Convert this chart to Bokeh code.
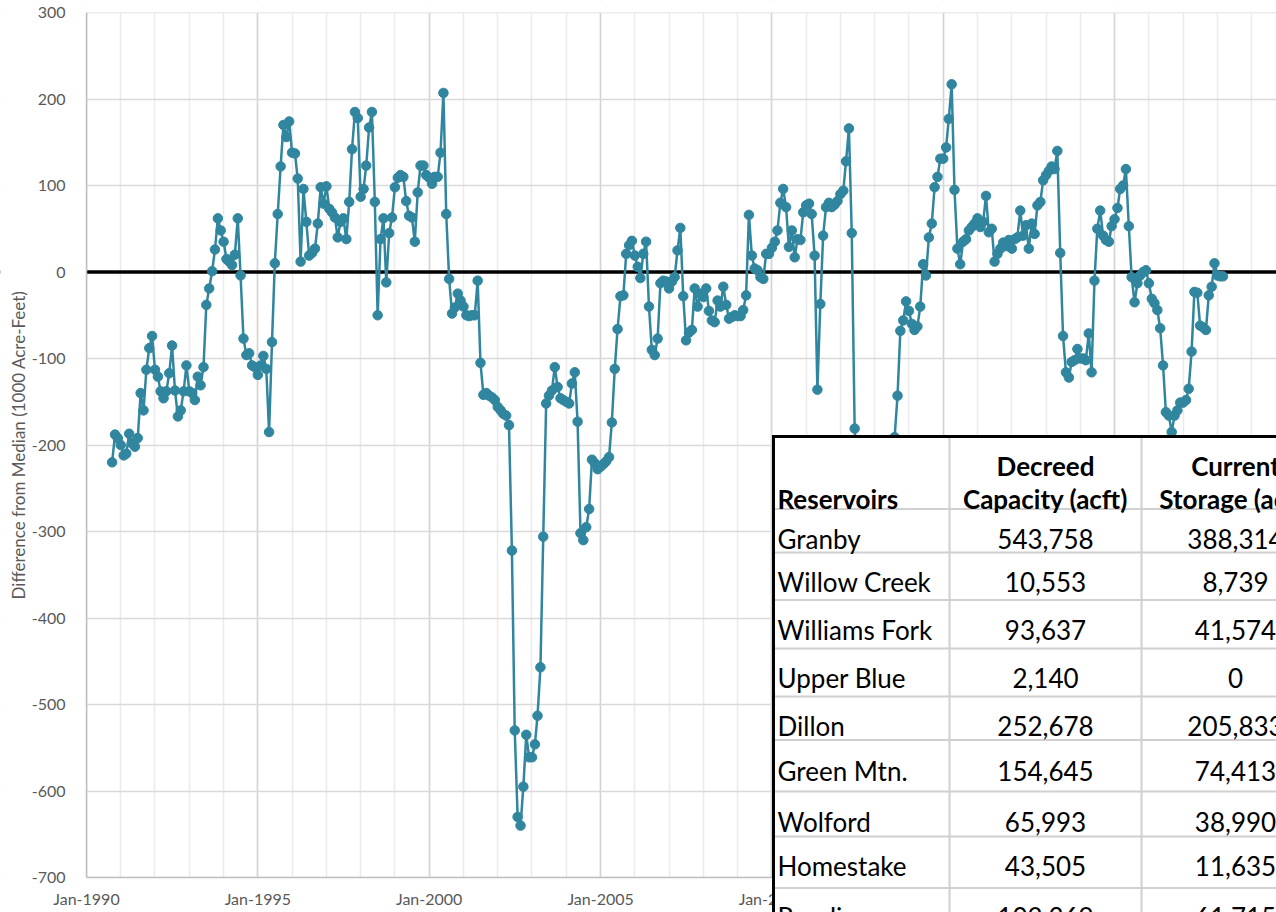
import datetime as dt
import pandas as pd
from bokeh.plotting import figure
from bokeh.models import (ColumnDataSource, Range1d, FixedTicker, DatetimeTickFormatter,
                          Span, BoxAnnotation, Label)
from bokeh.embed import file_html
from bokeh.resources import INLINE

# ---------------- data: monthly difference from median (1000 acre-feet) ----------------
START = "1990-10-01"
v1990 = [-220, -188, -192]
v1991 = [-200, -212, -210, -187, -198, -202, -192, -140, -160, -113, -88, -74]
v1992 = [-113, -121, -138, -146, -138, -117, -85, -137, -167, -160, -138, -108]
v1993 = [-138, -140, -148, -121, -131, -110, -38, -19, 1, 26, 62, 48]
v1994 = [35, 15, 12, 8, 20, 62, -4, -77, -96, -94, -108, -110]
v1995 = [-119, -108, -97, -112, -185, -81, 10, 67, 122, 170, 156, 174]
v1996 = [138, 137, 108, 12, 96, 58, 19, 22, 27, 56, 98, 79]
v1997 = [99, 73, 69, 63, 40, 58, 62, 38, 81, 142, 185, 178]
v1998 = [87, 96, 123, 167, 185, 81, -50, 38, 62, -12, 45, 63]
v1999 = [98, 109, 112, 110, 82, 65, 63, 35, 92, 123, 123, 112]
v2000 = [109, 102, 110, 110, 138, 207, 67, -8, -48, -41, -25, -33]
v2001 = [-40, -50, -51, -50, -50, -10, -105, -142, -140, -143, -145, -148]
v2002 = [-156, -160, -164, -166, -177, -322, -530, -630, -640, -595, -535, -561]
v2003 = [-561, -546, -513, -457, -306, -152, -143, -137, -110, -133, -146, -148]
v2004 = [-150, -152, -129, -116, -173, -302, -310, -295, -274, -217, -221, -228]
v2005 = [-225, -222, -219, -214, -174, -112, -66, -28, -27, 21, 31, 36]
v2006 = [19, 6, -7, 21, 35, -40, -90, -96, -77, -13, -10, -11]
v2007 = [-19, -11, -6, 25, 51, -28, -79, -70, -67, -19, -40, -25]
v2008 = [-29, -19, -45, -56, -58, -33, -40, -17, -38, -54, -52, -50]
v2009 = [-51, -51, -44, -27, 66, 19, 4, 2, -6, -8, 21, 21]
v2010 = [28, 35, 48, 80, 96, 75, 29, 48, 17, 38, 37, 69]
v2011 = [77, 79, 67, 19, -136, -37, 42, 75, 80, 75, 78, 82]
v2012 = [90, 94, 128, 166, 45, -181, -235, -270, -295, -315, -330, -345]
v2013 = [-350, -355, -345, -330, -300, -260, -230, -191, -143, -68, -56, -34]
v2014 = [-45, -60, -67, -63, -40, 9, -4, 40, 56, 98, 110, 131]
v2015 = [131, 144, 177, 217, 95, 27, 9, 35, 38, 48, 52, 56]
v2016 = [62, 52, 58, 88, 46, 50, 12, 21, 27, 34, 30, 37]
v2017 = [27, 38, 40, 71, 42, 54, 27, 56, 44, 77, 81, 106]
v2018 = [112, 117, 122, 119, 140, 22, -74, -116, -122, -104, -102, -89]
v2019 = [-100, -100, -102, -71, -116, -10, 50, 71, 42, 37, 35, 53]
v2020 = [61, 74, 96, 100, 119, 53, -6, -35, -13, -4, 0, 2]
v2021 = [-13, -31, -36, -44, -65, -108, -162, -166, -185, -166, -160, -151]
v2022 = [-151, -148, -135, -92, -23, -24, -62, -64, -67, -27, -17, 10]
v2023 = [-4, -5, -5]

x_major_years = [1990, 1995, 2000, 2005, 2010, 2015, 2020]
x_minor_years = list(range(1990, 2025))
y_ticks = [-700, -600, -500, -400, -300, -200, -100, 0, 100, 200, 300]
y_title = "Difference from Median (1000 Acre-Feet)"

# table
tbl_headers = ["Reservoirs", "Decreed", "Capacity (acft)", "Current", "Storage (acft)"]
reservoirs = ["Granby", "Willow Creek", "Williams Fork", "Upper Blue", "Dillon",
              "Green Mtn.", "Wolford", "Homestake", "Ruedi"]
decreed = [543758, 10553, 93637, 2140, 252678, 154645, 65993, 43505, 102369]
current = [388314, 8739, 41574, 0, 205833, 74413, 38990, 11635, 61715]

values = (v1990 + v1991 + v1992 + v1993 + v1994 + v1995 + v1996 + v1997 + v1998 + v1999 +
          v2000 + v2001 + v2002 + v2003 + v2004 + v2005 + v2006 + v2007 + v2008 + v2009 +
          v2010 + v2011 + v2012 + v2013 + v2014 + v2015 + v2016 + v2017 + v2018 + v2019 +
          v2020 + v2021 + v2022 + v2023)
dates = pd.date_range(START, periods=len(values), freq="MS")
src = ColumnDataSource(dict(date=dates, val=values))


def ms(y, m=1, d=1):
    return (dt.datetime(y, m, d) - dt.datetime(1970, 1, 1)).total_seconds() * 1000.0


# ---------------- layout (canvas pixels) ----------------
# The frame fills the whole canvas; both axes are pinned with fixed_location so that
# the table overlay can also cover the tick-label strip, as in the original.
W, H = 1276, 912
AX_PX, TOP_PY, AX_PY = 86, 12, 877       # y-axis column, 300 row, -700 row
Y_TOP, Y_AXIS = 300, -700
PX_PER_UNIT = (AX_PY - TOP_PY) / (Y_TOP - Y_AXIS)
PX_PER_YEAR = 34.27
YEAR_MS = 365.25 * 86400000.0
X0 = ms(1990)


def X(px):
    return X0 + (px - AX_PX) / PX_PER_YEAR * YEAR_MS


def Y(py):
    return Y_TOP - (py - TOP_PY) / PX_PER_UNIT


SERIES = "#31869f"
GRAY_TXT = "#595959"
FONT = "Lato"

p = figure(width=W, height=H, x_axis_type="datetime",
           x_range=Range1d(X(0), X(W)), y_range=Range1d(Y(H), Y(0)),
           output_backend="svg", toolbar_location=None,
           min_border_left=0, min_border_right=0, min_border_top=0, min_border_bottom=0)
p.outline_line_color = None
p.background_fill_color = "white"
p.border_fill_color = "white"

p.xaxis.ticker = FixedTicker(ticks=[ms(y) for y in x_major_years],
                             minor_ticks=[ms(y) for y in x_minor_years])
p.xaxis.formatter = DatetimeTickFormatter(years="%b-%Y", months="%b-%Y", days="%b-%Y")
p.xaxis.fixed_location = Y_AXIS
p.xaxis.bounds = (X0, X(W))
p.yaxis.ticker = FixedTicker(ticks=y_ticks)
p.yaxis.major_label_overrides = {v: str(v) for v in y_ticks}
p.yaxis.fixed_location = X0
p.yaxis.bounds = (Y_AXIS, Y_TOP)

for ax in (p.xaxis[0], p.yaxis[0]):
    ax.axis_line_color = "#bfbfbf"
    ax.axis_line_width = 1.5
    ax.major_tick_line_color = None
    ax.minor_tick_line_color = None
    ax.major_label_text_font = FONT
    ax.major_label_text_font_size = "16px"
    ax.major_label_text_color = GRAY_TXT
p.xaxis.major_label_standoff = 5
p.yaxis.major_label_standoff = 15
p.yaxis.axis_label = y_title
p.yaxis.axis_label_text_font = FONT
p.yaxis.axis_label_text_font_size = "17px"
p.yaxis.axis_label_text_font_style = "normal"
p.yaxis.axis_label_text_color = GRAY_TXT
p.yaxis.axis_label_standoff = 0

p.xgrid.grid_line_color = "#d4d4d4"
p.xgrid.grid_line_width = 1.5
p.xgrid.minor_grid_line_color = "#ebebeb"
p.xgrid.minor_grid_line_width = 1.5
p.ygrid.grid_line_color = "#d9d9d9"
p.ygrid.grid_line_width = 1.5

p.add_layout(Span(location=0, dimension="width", line_color="black",
                  line_width=3.5, level="underlay"))
# white margins around the plotting area (hide grid / zero line outside the axes)
for kw in (dict(right=X0), dict(top=Y_AXIS), dict(bottom=Y_TOP)):
    p.add_layout(BoxAnnotation(fill_color="white", fill_alpha=1.0, line_color=None,
                               level="underlay", **kw))

p.line(x="date", y="val", source=src, line_color=SERIES, line_width=2.5, line_join="round")
p.scatter(x="date", y="val", source=src, marker="circle", size=9.5,
          fill_color=SERIES, line_color=SERIES)


# ---------------- reservoir table overlay ----------------
def rect(l, t, r, b, color):
    p.add_layout(BoxAnnotation(left=X(l), right=X(r), top=Y(t), bottom=Y(b),
                               fill_color=color, fill_alpha=1.0, line_color=None,
                               level="overlay"))


def text(px, py, s, align, bold=False):
    p.add_layout(Label(x=X(px), y=Y(py), text=s, text_font=FONT, text_font_size="26px",
                       text_font_style="bold" if bold else "normal", text_color="black",
                       text_align=align, text_baseline="alphabetic", level="overlay"))


T_LEFT, T_TOP, T_RIGHT, T_BOT = 773, 436, 1300, 940
COL1, COL2 = 949, 1141
NAME_X, C2_X, C3_X = 777, 1045, 1235
row_lines = [508.5, 552, 599.5, 648, 696, 739.5, 791, 836, 887.5]
row_base = [538, 581, 629, 677, 725, 770, 821, 865, 916]

rect(T_LEFT, T_TOP, T_RIGHT, T_BOT, "white")
for yl in row_lines:
    rect(T_LEFT, yl - 1, T_RIGHT, yl + 1, "#d0d0d0")
for xl in (COL1, COL2):
    rect(xl - 1, T_TOP, xl + 1, T_BOT, "#d0d0d0")
rect(T_LEFT - 1.5, T_TOP - 1.5, T_RIGHT, T_TOP + 1.5, "black")
rect(T_LEFT - 1.5, T_TOP - 1.5, T_LEFT + 1.5, T_BOT, "black")

text(NAME_X, 498, tbl_headers[0], "left", bold=True)
text(C2_X, 465, tbl_headers[1], "center", bold=True)
text(C2_X, 498, tbl_headers[2], "center", bold=True)
text(C3_X, 465, tbl_headers[3], "center", bold=True)
text(C3_X, 498, tbl_headers[4], "center", bold=True)
for name, dc, cs, yb in zip(reservoirs, decreed, current, row_base):
    text(NAME_X, yb, name, "left")
    text(C2_X, yb, f"{dc:,}", "center")
    text(C3_X, yb, f"{cs:,}", "center")

open("out.html", "w").write(file_html(p, INLINE))
